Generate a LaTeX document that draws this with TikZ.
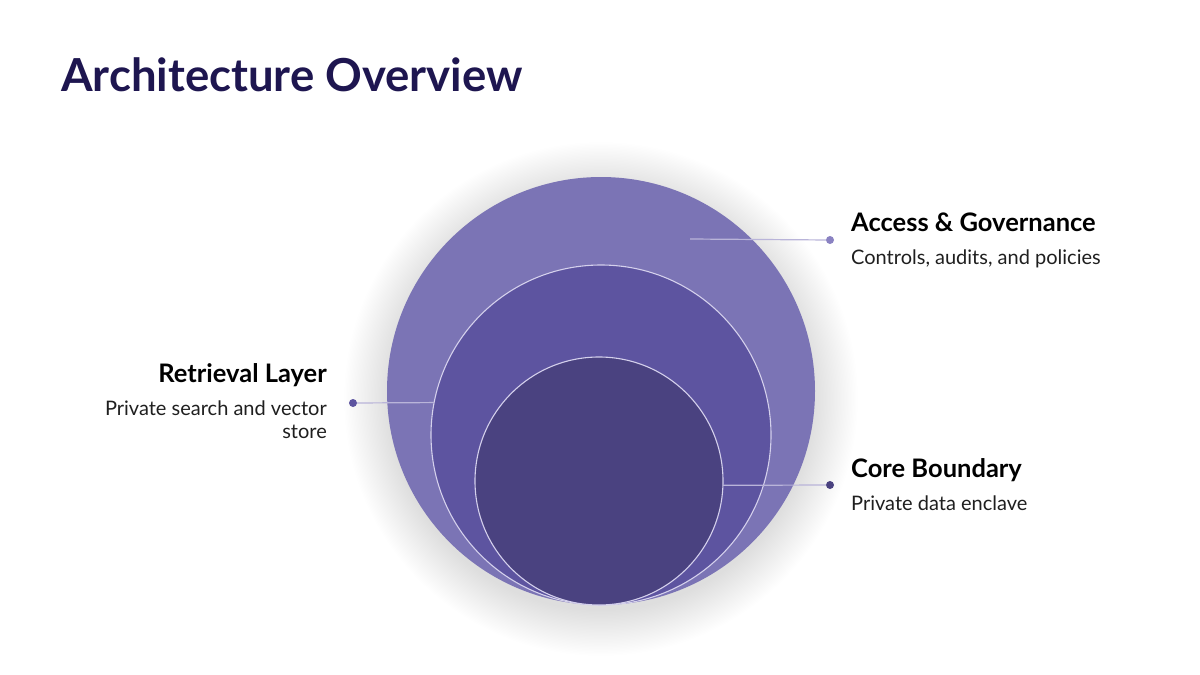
\documentclass[tikz,border=0pt]{standalone}
\usepackage{fontspec}
\setmainfont{Lato}
\definecolor{titlec}{HTML}{1E1650}
\definecolor{outerc}{HTML}{7B74B5}
\definecolor{midc}{HTML}{5D54A0}
\definecolor{innerc}{HTML}{4A4280}
\definecolor{ringc}{HTML}{D4D0EC}
\definecolor{linec}{HTML}{B9B4D9}
\definecolor{dotA}{HTML}{8A82C2}
\tikzset{
  disc/.style={circle, inner sep=0pt, outer sep=0pt},
  ring/.style={disc, draw=ringc, line width=1.1pt},
  lead/.style={draw=linec, line width=1.2pt},
  dotnode/.style={circle, inner sep=0pt, outer sep=0pt, minimum size=8pt},
  heading/.style={font=\fontsize{25.5}{30}\selectfont\bfseries, text=black, inner sep=0pt},
  sub/.style={font=\fontsize{20}{23}\selectfont, text=black!88, inner sep=0pt},
  glowlayer/.style={fill=black, opacity=0.0045},
}
\begin{document}
\begin{tikzpicture}[x=1pt,y=-1pt]
\useasboundingbox[fill=white] (0,0) rectangle (1200,675);
% soft shadow halo
\foreach \i in {0,...,32} {
  \path[glowlayer] (601,399) circle ({212+\i*1.4});
}
% circles
\node[disc, fill=outerc, minimum size=428pt] (outer) at (601,391) {};
\node[ring, fill=midc, minimum size=340pt] (middle) at (601,435) {};
\node[ring, fill=innerc, minimum size=248pt] (inner) at (599,481) {};
% title
\node[anchor=base west, inner sep=0pt, font=\fontsize{45.5}{50}\selectfont\bfseries, text=titlec] (title) at (61,91) {Architecture Overview};
% Access & Governance
\coordinate (accstart) at (690,239);
\node[dotnode, fill=dotA] (dotacc) at (830,240) {};
\draw[lead] (accstart) -- (dotacc);
\node[heading, anchor=base west] (acch) at (851,231) {Access \& Governance};
\node[sub, anchor=base west] (accs) at (851,264) {Controls, audits, and policies};
% Retrieval Layer
\node[dotnode, fill=midc] (dotret) at (353,403) {};
\draw[lead] (dotret) -- (middle.169);
\node[heading, anchor=base east] (reth) at (327,382) {Retrieval Layer};
\node[sub, anchor=north east, align=right] (rets) at (327,401) {Private search and vector\\store};
% Core Boundary
\node[dotnode, fill=innerc] (dotcore) at (830,485) {};
\draw[lead] (inner.-2) -- (dotcore);
\node[heading, anchor=base west] (coreh) at (851,477) {Core Boundary};
\node[sub, anchor=base west] (cores) at (851,510) {Private data enclave};
\end{tikzpicture}
\end{document}
